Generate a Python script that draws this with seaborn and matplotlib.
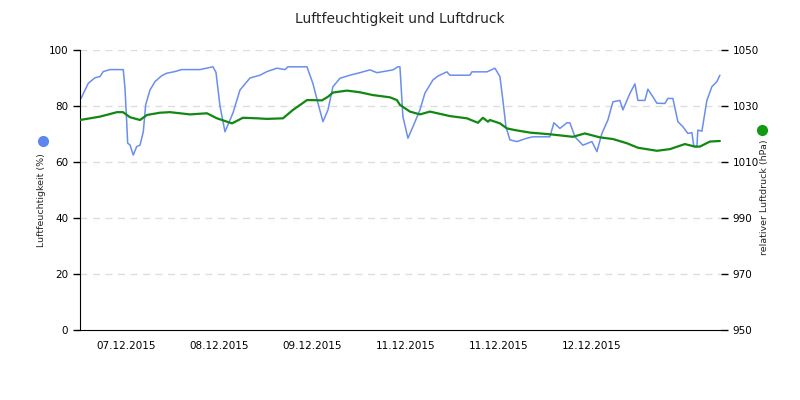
import numpy as np
import pandas as pd
import matplotlib
matplotlib.use("Agg")
import matplotlib.pyplot as plt
import seaborn as sns

# =========================================================
# DATA (hours since 07.12.2015 00:00)
# =========================================================

hum_hours = [0.26, 2.14, 3.87, 5.16, 6.01, 7.74, 11.17, 11.61, 12.05, 12.31, 12.9,
             13.75, 14.63, 15.48, 16.34, 16.95, 18.06, 19.35, 21.08, 22.37, 24.52,
             26.24, 30.97, 34.32, 35.1, 36.13, 37.42, 39.48, 41.29, 43.87, 46.45,
             48.26, 50.84, 52.9, 53.68, 58.58, 60.13, 61.42, 62.71, 64.0, 65.29,
             67.1, 69.68, 72.26, 74.84, 76.65, 80.77, 82.06, 82.58, 83.35, 84.65,
             85.94, 87.74, 89.03, 91.1, 92.39, 94.7, 95.48, 100.65, 101.16, 105.03,
             107.1, 108.39, 109.16, 109.94, 110.97, 112.77, 115.35, 116.9, 121.29,
             122.32, 123.87, 125.68, 126.45, 127.74, 129.8, 132.13, 133.42, 134.71,
             136.26, 137.55, 139.35, 140.13, 141.94, 143.23, 144.0, 145.81, 146.58,
             147.87, 148.9, 150.97, 151.74, 153.03, 154.32, 155.61, 156.9, 157.94,
             158.45, 159.23, 159.48, 160.52, 161.81, 163.1, 164.39, 165.16]
humidity = [82.7, 88.1, 90.1, 90.5, 92.3, 93.0, 93.0, 86.3, 74.4, 66.7, 66.1,
            62.5, 65.5, 66.0, 70.8, 80.4, 85.7, 88.7, 90.8, 91.7, 92.3,
            93.0, 93.0, 94.0, 92.0, 80.0, 70.8, 77.5, 85.7, 90.0, 91.0,
            92.3, 93.5, 93.0, 94.0, 94.0, 88.0, 81.0, 74.4, 78.6, 86.9,
            89.9, 91.0, 91.9, 92.9, 91.9, 92.9, 94.0, 94.0, 76.2, 68.5,
            72.6, 78.6, 84.6, 89.3, 90.7, 92.2, 91.0, 91.0, 92.2, 92.2,
            93.5, 90.5, 82.0, 72.6, 67.9, 67.3, 68.5, 69.0, 69.0,
            74.0, 72.0, 74.0, 74.0, 69.0, 66.0, 67.3, 63.7, 70.2,
            75.0, 81.5, 82.0, 78.6, 84.5, 87.9, 82.0, 82.0, 86.0,
            83.3, 81.0, 80.9, 82.7, 82.7, 74.4, 72.6, 70.2, 70.5,
            65.5, 65.5, 71.4, 71.0, 82.0, 86.9, 88.7, 91.0]

pres_hours = [0.0, 5.16, 9.55, 11.1, 12.9, 15.48, 17.29, 20.65, 23.23, 28.39, 32.77,
              35.35, 39.23, 42.06, 45.68, 48.26, 52.39, 54.97, 58.58, 60.13, 62.45,
              64.0, 65.29, 68.9, 72.26, 75.61, 80.0, 81.81, 82.58, 85.16, 87.74,
              90.32, 95.48, 99.87, 102.71, 104.0, 105.29, 105.81, 108.39, 110.19,
              112.26, 116.13, 121.29, 127.23, 130.32, 134.19, 137.55, 141.16, 144.0,
              148.9, 152.26, 156.13, 158.71, 160.0, 162.58, 165.16]
pressure = [1025.0, 1026.2, 1027.8, 1027.8, 1026.0, 1025.0, 1026.8, 1027.6, 1027.8, 1027.0, 1027.4,
            1025.6, 1023.8, 1025.8, 1025.6, 1025.4, 1025.6, 1028.6, 1032.1, 1032.1, 1032.0,
            1033.3, 1034.8, 1035.5, 1034.9, 1033.9, 1033.1, 1032.1, 1030.4, 1028.0, 1027.0,
            1028.0, 1026.4, 1025.6, 1024.0, 1025.8, 1024.4, 1025.0, 1023.8, 1022.0,
            1021.4, 1020.5, 1019.9, 1019.0, 1020.2, 1018.8, 1018.2, 1016.7, 1015.1,
            1014.0, 1014.6, 1016.4, 1015.5, 1015.5, 1017.3, 1017.5]

day_ticks = [24, 48, 72, 96, 120, 144]
label_pos = [12, 36, 60, 84, 108, 132]
day_labels = ["07.12.2015", "08.12.2015", "09.12.2015", "11.12.2015", "11.12.2015", "12.12.2015"]

hum_df = pd.DataFrame({"hours": hum_hours, "humidity": humidity})
pres_df = pd.DataFrame({"hours": pres_hours, "pressure": pressure})

# =========================================================
# PLOT
# =========================================================

sns.set_style("white")
plt.rcParams["font.family"] = ["DejaVu Sans"]

fig = plt.figure(figsize=(8, 4), dpi=100)
ax = fig.add_axes([0.1, 0.175, 0.801, 0.7])
ax2 = ax.twinx()

sns.lineplot(data=hum_df, x="hours", y="humidity", ax=ax, color="#6a8ef0", linewidth=1.1)
sns.lineplot(data=pres_df, x="hours", y="pressure", ax=ax2, color="#118811", linewidth=1.6)

ax.set_xlim(0, 165.4)
ax.set_ylim(0, 100)
ax2.set_ylim(950, 1050)
ax.set_yticks([0, 20, 40, 60, 80, 100])
ax2.set_yticks([950, 970, 990, 1010, 1030, 1050])

for y in [20, 40, 60, 80, 100]:
    ax.axhline(y, color="#dddddd", linestyle=(0, (5, 4)), linewidth=1, zorder=0)

ax.set_xticks(day_ticks)
ax.set_xticklabels([])
ax.set_xticks(label_pos, minor=True)
ax.set_xticklabels(day_labels, minor=True)
ax.tick_params(axis="x", which="major", direction="out", length=5, width=1, color="black")
ax.tick_params(axis="x", which="minor", length=0, pad=8, labelsize=7.5, labelcolor="black")
ax.tick_params(axis="y", direction="out", length=5, width=1, color="black", labelsize=7.5,
               labelcolor="black", left=True)
ax2.tick_params(axis="y", direction="out", length=5, width=1, color="black", labelsize=7.5,
                labelcolor="black", right=True)

for a in (ax, ax2):
    a.spines["top"].set_visible(False)
    a.spines["right"].set_visible(False)
ax2.spines["left"].set_visible(False)
ax2.spines["bottom"].set_visible(False)
ax.spines["left"].set_color("black")
ax.spines["bottom"].set_color("black")

ax.set_xlabel("")
ax.set_ylabel("")
ax2.set_ylabel("")

fig.suptitle("Luftfeuchtigkeit und Luftdruck", y=0.97, fontsize=10)

# axis titles with coloured dots
fig.text(0.052, 0.5, "Luftfeuchtigkeit (%)", rotation=90, ha="center", va="center", fontsize=6.8)
fig.text(0.955, 0.508, "relativer Luftdruck (hPa)", rotation=90, ha="center", va="center", fontsize=6.8)
fig.add_artist(plt.Line2D([0.054], [0.6475], marker="o", markersize=7, color="#5d86ee",
                          transform=fig.transFigure))
fig.add_artist(plt.Line2D([0.952], [0.675], marker="o", markersize=7, color="#119911",
                          transform=fig.transFigure))

plt.savefig("out.png", dpi=100)
